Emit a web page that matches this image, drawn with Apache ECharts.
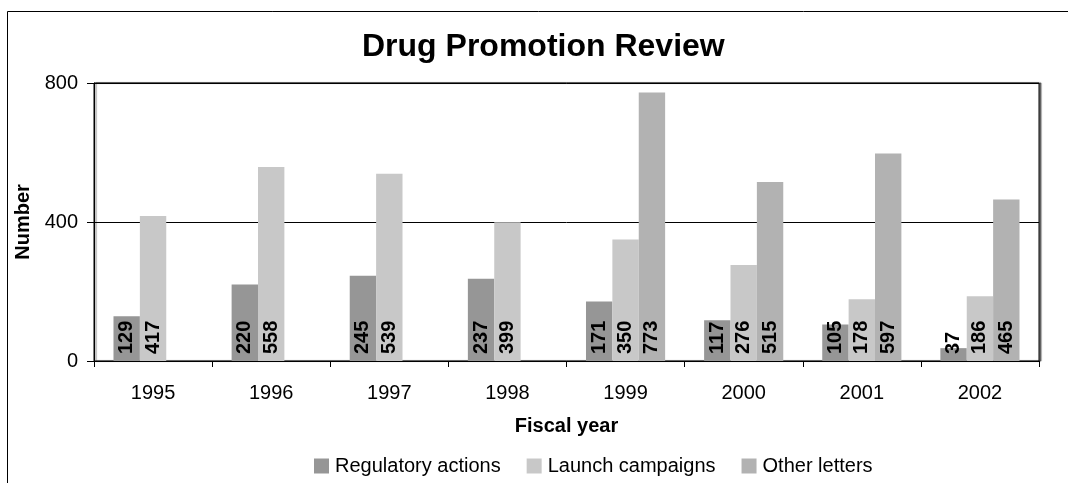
<!DOCTYPE html>
<html><head><meta charset="utf-8">
<script src="https://cdn.jsdelivr.net/npm/echarts@6/dist/echarts.min.js"></script>
<style>html,body{margin:0;padding:0;background:#fff}#c{width:1068px;height:483px}</style>
</head><body><div id="c"></div>
<script>
const categories = ['1995','1996','1997','1998','1999','2000','2001','2002'];
const regulatory = [129,220,245,237,171,117,105,37];
const launch = [417,558,539,399,350,276,178,186];
const other = [null,null,null,null,773,515,597,465];
const yTicks = [0,400,800];

const F = '"Liberation Sans", Arial, sans-serif';
const chart = echarts.init(document.getElementById('c'));
const lbl = {
  show: true, position: 'insideBottom', rotate: 90, distance: 7,
  align: 'left', verticalAlign: 'middle',
  fontFamily: F, fontWeight: 'bold', fontSize: 20, color: '#000'
};
function mk(name, data, color){
  return {name, type:'bar', data, barGap:'0%', barCategoryGap:'33%',
    itemStyle:{color}, label: lbl, emphasis:{disabled:true}};
}
chart.setOption({
  animation:false,
  title:{text:'Drug Promotion Review', left:362, top:31, padding:0,
    textStyle:{fontFamily:F, fontWeight:'bold', fontSize:32, color:'#000'}},
  graphic:[{type:'rect', shape:{x:7.5,y:11.5,width:1100,height:600},
    style:{fill:'none', stroke:'#000', lineWidth:1}, silent:true}],
  grid:{left:94, right:29, top:83, bottom:122, show:true, borderColor:'#000', borderWidth:1,
    backgroundColor:'#fff', shadowColor:'rgba(0,0,0,0.5)', shadowOffsetX:2, shadowOffsetY:0, shadowBlur:1},
  legend:{top:456, left:314, padding:0, itemWidth:15, itemHeight:15, itemGap:26, icon:'rect',
    textStyle:{fontFamily:F, fontSize:20, color:'#000', padding:[0,0,0,1]},
    data:['Regulatory actions','Launch campaigns','Other letters']},
  xAxis:{type:'category', data:categories, name:'Fiscal year', nameLocation:'middle', nameGap:55,
    nameTextStyle:{fontFamily:F, fontWeight:'bold', fontSize:20, color:'#000'},
    axisLine:{lineStyle:{color:'#000'}},
    axisTick:{show:true, length:6, lineStyle:{color:'#000'}},
    axisLabel:{fontFamily:F, fontSize:20, color:'#000', margin:22}},
  yAxis:{type:'value', min:yTicks[0], max:yTicks[2], interval:400, name:'Number', nameLocation:'middle', nameGap:58,
    nameTextStyle:{fontFamily:F, fontWeight:'bold', fontSize:20, color:'#000'},
    axisLine:{show:true, lineStyle:{color:'#000'}},
    axisTick:{show:true, length:7, lineStyle:{color:'#000'}},
    splitLine:{lineStyle:{color:'#000', width:1}},
    axisLabel:{fontFamily:F, fontSize:20, color:'#000', margin:16}},
  series:[mk('Regulatory actions', regulatory, '#969696'),
          mk('Launch campaigns', launch, '#c8c8c8'),
          mk('Other letters', other, '#b2b2b2')]
});
</script></body></html>
